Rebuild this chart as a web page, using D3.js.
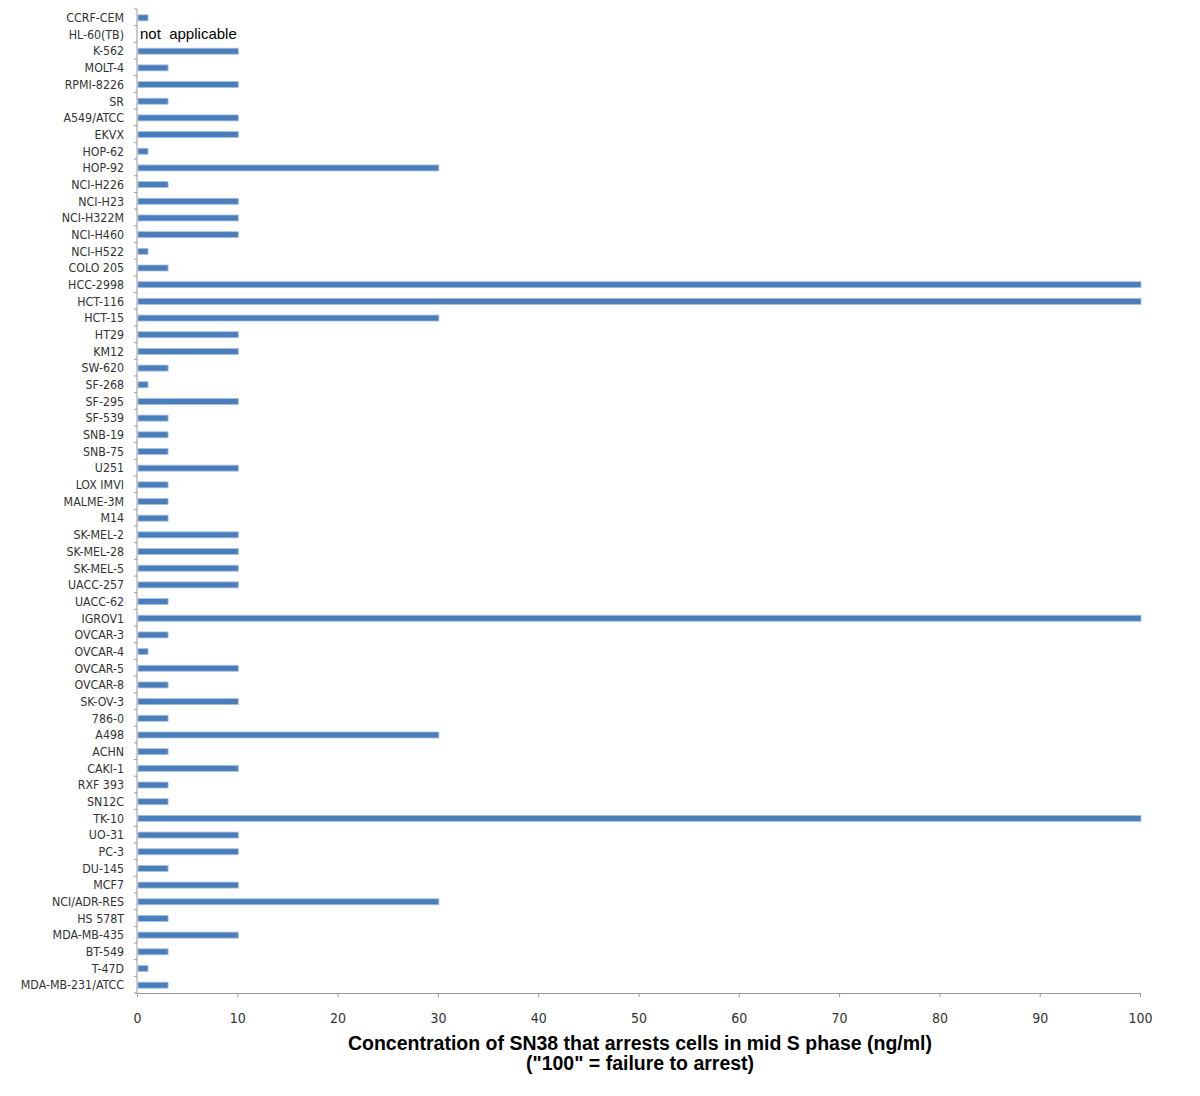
<!DOCTYPE html>
<html>
<head>
<meta charset="utf-8">
<script src="https://cdn.jsdelivr.net/npm/d3@7"></script>
<style>
body { margin: 0; background: #fff; }
svg { display: block; }
</style>
</head>
<body>
<svg id="chart" width="1200" height="1096"></svg>
<script>
var cellLines = ['CCRF-CEM', 'HL-60(TB)', 'K-562', 'MOLT-4', 'RPMI-8226', 'SR',
	'A549/ATCC', 'EKVX', 'HOP-62', 'HOP-92', 'NCI-H226', 'NCI-H23', 'NCI-H322M', 'NCI-H460', 'NCI-H522',
	'COLO 205', 'HCC-2998', 'HCT-116', 'HCT-15', 'HT29', 'KM12', 'SW-620',
	'SF-268', 'SF-295', 'SF-539', 'SNB-19', 'SNB-75', 'U251',
	'LOX IMVI', 'MALME-3M', 'M14', 'SK-MEL-2', 'SK-MEL-28', 'SK-MEL-5', 'UACC-257', 'UACC-62',
	'IGROV1', 'OVCAR-3', 'OVCAR-4', 'OVCAR-5', 'OVCAR-8', 'SK-OV-3',
	'786-0', 'A498', 'ACHN', 'CAKI-1', 'RXF 393', 'SN12C', 'TK-10', 'UO-31',
	'PC-3', 'DU-145',
	'MCF7', 'NCI/ADR-RES', 'HS 578T', 'MDA-MB-435', 'BT-549', 'T-47D', 'MDA-MB-231/ATCC'];

var concentrations = [1, null, 10, 3, 10, 3,
	10, 10, 1, 30, 3, 10, 10, 10, 1,
	3, 100, 100, 30, 10, 10, 3,
	1, 10, 3, 3, 3, 10,
	3, 3, 3, 10, 10, 10, 10, 3,
	100, 3, 1, 10, 3, 10,
	3, 30, 3, 10, 3, 3, 100, 10,
	10, 3,
	10, 30, 3, 10, 3, 1, 3];

var xTicks = [0, 10, 20, 30, 40, 50, 60, 70, 80, 90, 100];
var naLabel = 'not  applicable';
var titleLines = ['Concentration of SN38 that arrests cells in mid S phase (ng/ml)', '("100" = failure to arrest)'];

var svg = d3.select('#chart');
var plotLeft = 137, plotRight = 1140, plotTop = 9, plotBottom = 993;

var x = d3.scaleLinear().domain([0, 100]).range([plotLeft, plotRight]);
var y = d3.scaleBand().domain(cellLines).range([plotTop, plotBottom]).paddingInner(0);

var barH = 6;
var labelFont = '"Liberation Sans Narrow", "DejaVu Sans Condensed", sans-serif';

// bars
svg.append('g')
	.selectAll('rect')
	.data(cellLines.map(function (d, i) { return {name: d, value: concentrations[i]}; })
		.filter(function (d) { return d.value !== null; }))
	.enter()
	.append('rect')
	.attr('x', x(0) + 1)
	.attr('y', function (d) { return y(d.name) + y.bandwidth() / 2 - barH / 2 + 0.5; })
	.attr('width', function (d) { return x(d.value) - x(0); })
	.attr('height', barH)
	.attr('fill', '#4a7ebb')
	.attr('stroke', '#a9c1e0')
	.attr('stroke-width', 0.8);

// left axis
var yAxis = svg.append('g');
yAxis.append('line')
	.attr('x1', plotLeft).attr('x2', plotLeft)
	.attr('y1', plotTop).attr('y2', plotBottom)
	.attr('stroke', '#999').attr('stroke-width', 1);

var boundaries = cellLines.map(function (d) { return y(d); });
boundaries.push(plotBottom);
yAxis.selectAll('.tick')
	.data(boundaries)
	.enter()
	.append('line')
	.attr('class', 'tick')
	.attr('x1', plotLeft - 3).attr('x2', plotLeft)
	.attr('y1', function (d) { return d; })
	.attr('y2', function (d) { return d; })
	.attr('stroke', '#999');

yAxis.selectAll('text')
	.data(cellLines)
	.enter()
	.append('text')
	.attr('x', 124)
	.attr('y', function (d) { return y(d) + y.bandwidth() / 2 + 0.5; })
	.attr('dy', '0.35em')
	.attr('text-anchor', 'end')
	.attr('font-family', labelFont)
	.attr('font-size', 12.3)
	.attr('fill', '#333')
	.text(function (d) { return d; });

// not applicable note
svg.append('text')
	.attr('x', x(0) + 3)
	.attr('y', y('HL-60(TB)') + y.bandwidth() / 2)
	.attr('dy', '0.35em')
	.attr('font-family', 'Helvetica, "Liberation Sans", Arial, sans-serif')
	.attr('font-size', 15)
	.attr('fill', '#000')
	.style('white-space', 'pre')
	.text(naLabel);

// bottom axis
var xAxis = svg.append('g')
	.attr('transform', 'translate(0,' + plotBottom + ')')
	.call(d3.axisBottom(x).tickValues(xTicks).tickSize(4).tickPadding(16));
xAxis.select('.domain').attr('stroke', '#999');
xAxis.selectAll('.tick line').attr('stroke', '#999');
xAxis.selectAll('.tick text')
	.attr('font-family', labelFont)
	.attr('font-size', 14)
	.attr('fill', '#333');

// title
svg.selectAll('.title')
	.data(titleLines)
	.enter()
	.append('text')
	.attr('class', 'title')
	.attr('x', 640)
	.attr('y', function (d, i) { return 1050 + i * 20; })
	.attr('text-anchor', 'middle')
	.attr('font-family', 'Helvetica, "Liberation Sans", Arial, sans-serif')
	.attr('font-weight', 'bold')
	.attr('font-size', 19.5)
	.attr('fill', '#000')
	.text(function (d) { return d; });
</script>
</body>
</html>
